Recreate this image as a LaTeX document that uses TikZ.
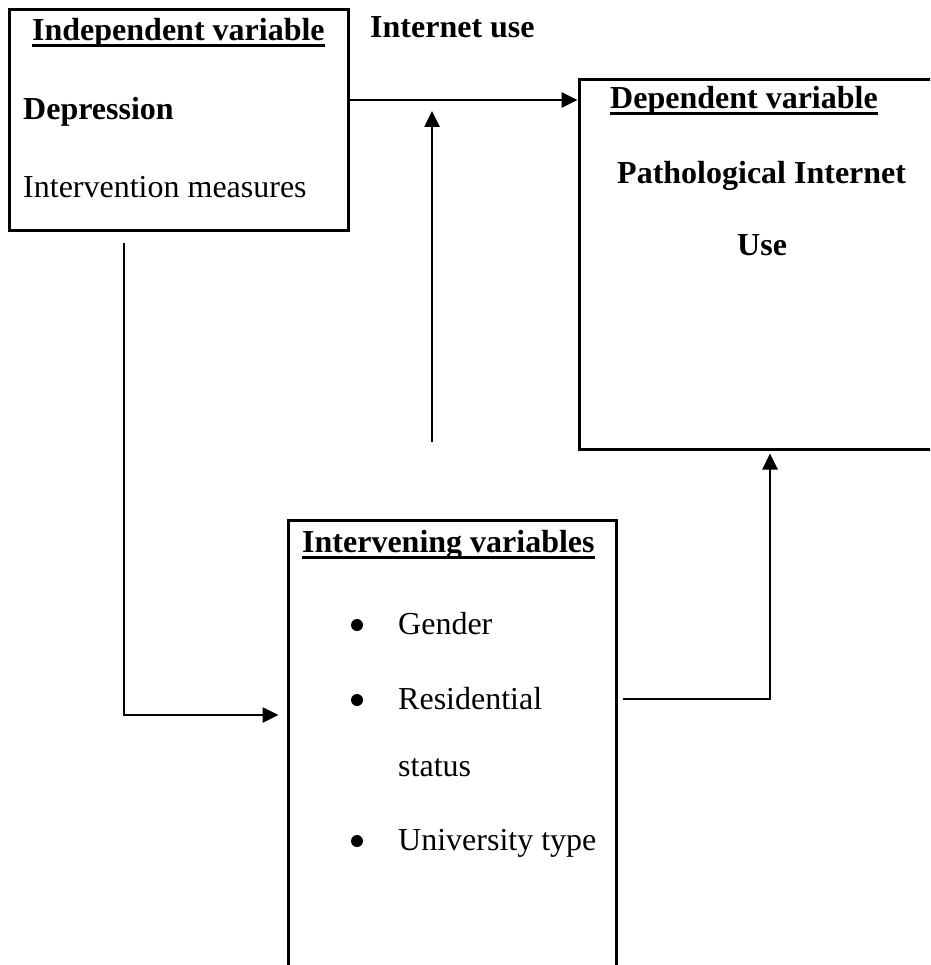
\documentclass[tikz,border=0pt]{standalone}
\usepackage{fontspec}
\setmainfont{Liberation Serif}
\usetikzlibrary{arrows.meta}
\begin{document}
\begin{tikzpicture}[x=1pt,y=-1pt,
  every node/.style={font=\fontsize{32}{38}\selectfont},
  boxed/.style={draw, line width=3pt, rectangle, inner sep=0pt},
  txt/.style={anchor=base west, inner sep=0pt},
  btxt/.style={txt, font=\fontsize{32}{38}\selectfont\bfseries},
  uline/.style={line width=3pt},
  arr/.style={line width=2.6pt, -{Triangle[length=16pt,width=15pt]}},
  bullet/.style={circle, fill=black, inner sep=0pt, minimum size=12pt}]
\useasboundingbox (0,0) rectangle (930,965);
\clip (0,0) rectangle (930,965);
% boxes
\node[boxed, minimum width=339pt, minimum height=221pt] (box1) at (178.5,120.5) {};
\node[boxed, minimum width=400pt, minimum height=369pt] (box2) at (779,264.5) {};
\node[boxed, minimum width=328pt, minimum height=480pt] (box3) at (452,760) {};
% texts box1
\node[btxt] (t1) at (32,41) {Independent variable};
\draw[uline] ([yshift=-5pt]t1.base west) -- ([yshift=-5pt]t1.base east);
\node[btxt] (t2) at (23,120) {Depression};
\node[txt] (t3) at (23,198) {Intervention measures};
% label
\node[btxt] (lab) at (370,38) {Internet use};
% texts box2
\node[btxt] (d1) at (610,109) {Dependent variable};
\draw[uline] ([yshift=-5pt]d1.base west) -- ([yshift=-5pt]d1.base east);
\node[btxt] (d2) at (617,184) {Pathological Internet};
\node[btxt] (d3) at (737,256) {Use};
% texts box3
\node[btxt] (i1) at (302,552) {Intervening variables};
\draw[uline] ([yshift=-5pt]i1.base west) -- ([yshift=-5pt]i1.base east);
\node[bullet] (b1) at (357,625) {};
\node[txt] (i2) at (398,634) {Gender};
\node[bullet] (b2) at (357,700) {};
\node[txt] (i3) at (398,709) {Residential};
\node[txt] (i4) at (398,776) {status};
\node[bullet] (b3) at (357,841) {};
\node[txt] (i5) at (398,850) {University type};
% connectors
\coordinate (hy) at (0,100);
\draw[arr] (box1.east |- hy) -- (box2.west |- hy);
\coordinate (v1) at (432,442);
\coordinate (v2) at (432,111);
\draw[arr] (v1) -- (v2);
\coordinate (l1) at (124,243);
\coordinate (l2) at (124,715);
\draw[arr] (l1) -- (l2) -- ([xshift=-8pt]box3.west |- l2);
\coordinate (r1) at (623,699);
\coordinate (r2) at (770,699);
\draw[arr] (r1) -- (r2) -- ([yshift=-3pt]box2.south -| r2);
\end{tikzpicture}
\end{document}
